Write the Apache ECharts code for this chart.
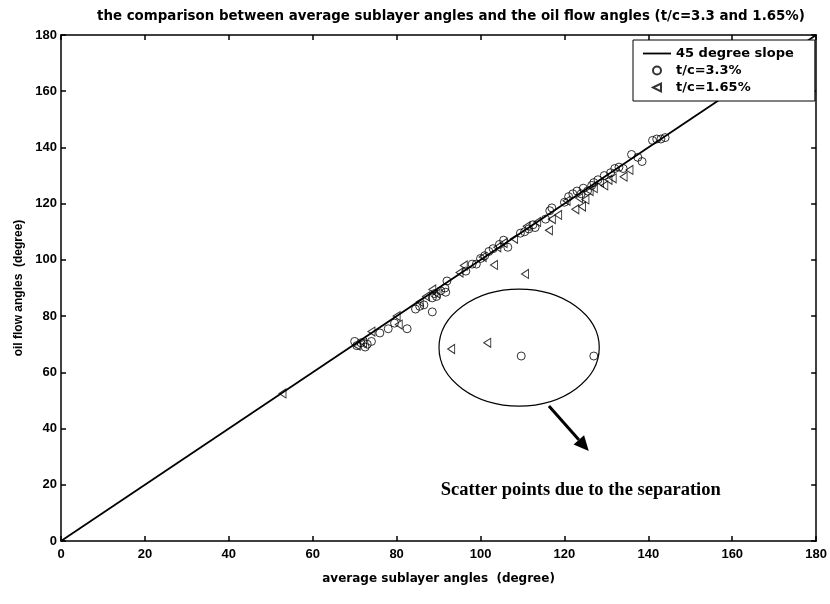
<!DOCTYPE html>
<html>
<head>
<meta charset="utf-8">
<script src="https://cdn.jsdelivr.net/npm/echarts@6/dist/echarts.min.js"></script>
<style>
  html, body { margin: 0; padding: 0; background: #fff; }
  #chart { width: 830px; height: 604px; }
</style>
</head>
<body>
<div id="chart"></div>
<script>
// Axis range and tick spacing (degrees)
const axisMin = 0;
const axisMax = 180;
const axisStep = 20;

// Reference 45-degree line (oil flow angle == sublayer angle)
const slopeLine = [[0, 0], [180, 180]];

// t/c = 3.3 % : [average sublayer angle, oil flow angle]
const tc33 = [
  [70.0, 71.0], [70.5, 69.5], [71.5, 70.5], [72.5, 69.0], [73.0, 70.0], [74.0, 71.0],
  [76.0, 74.0], [78.0, 75.5], [79.5, 77.5], [82.5, 75.5],
  [84.5, 82.5], [85.5, 83.5], [86.5, 84.0], [88.5, 81.5],
  [88.5, 86.5], [89.0, 88.0], [89.5, 87.0], [90.5, 89.0], [91.5, 90.0], [92.0, 92.5], [91.7, 88.5],
  [96.5, 96.0], [98.0, 98.5], [99.0, 98.5], [100.0, 100.5], [101.0, 101.5], [102.0, 103.0],
  [103.0, 104.0], [104.5, 105.5], [105.5, 107.0], [106.5, 104.5],
  [109.5, 109.5], [110.5, 110.0], [111.5, 111.0], [112.5, 112.5], [113.0, 111.5],
  [115.5, 114.5], [116.5, 117.5], [117.0, 118.5],
  [120.0, 120.5], [121.0, 122.5], [122.0, 123.5], [123.0, 124.5], [124.0, 123.5], [124.5, 125.5],
  [125.5, 124.5], [126.5, 126.5], [127.0, 127.5], [128.0, 128.5],
  [129.5, 130.0], [131.0, 131.0], [132.0, 132.5], [133.0, 133.0], [134.0, 132.5],
  [136.0, 137.5], [137.5, 136.5], [138.5, 135.0],
  [141.0, 142.5], [142.0, 143.0], [143.0, 143.0], [144.0, 143.5],
  [109.7, 65.8], [127.0, 65.8]
];

// t/c = 1.65 % : [average sublayer angle, oil flow angle]
const tc165 = [
  [52.8, 52.5],
  [70.5, 69.5], [72.0, 70.5], [74.0, 74.5], [80.0, 80.0], [80.5, 77.0],
  [85.5, 85.0], [87.0, 87.0], [88.5, 89.5], [89.5, 88.0],
  [95.0, 95.5], [96.0, 98.0],
  [100.5, 101.0], [103.2, 98.2], [104.0, 104.5], [105.5, 106.0],
  [108.0, 107.5], [111.0, 112.0], [113.5, 113.5],
  [116.3, 110.5], [117.0, 114.5], [118.5, 116.0],
  [120.5, 121.0], [122.6, 118.0], [124.2, 119.0], [123.5, 122.0], [125.0, 121.5], [126.0, 124.5],
  [127.0, 125.5], [128.5, 127.5], [129.5, 126.5], [130.5, 128.5], [131.5, 129.0],
  [134.1, 129.6], [135.5, 132.0],
  [93.0, 68.3], [101.6, 70.5], [110.6, 95.0]
];

// Annotation around the separated points (data units)
const noteCenter = [109.2, 68.8];
const noteRadii = [19.1, 20.8];
const arrowFrom = [116.3, 48.0];
const arrowTo = [125.8, 32.0];
const notePos = [90.5, 18.2];
const noteText = 'Scatter points due to the separation';

const leftTriangle = 'path://M0,5 L10,0 L10,10 Z';
const lineIcon = 'path://M0,0 L28,0 L28,1.8 L0,1.8 Z';
const ink = '#000';
const sansBold = { fontFamily: 'DejaVu Sans', fontWeight: 'bold', color: ink };

const chart = echarts.init(document.getElementById('chart'), null, { renderer: 'canvas' });

function frameAxis(position, showLabels, extra) {
  return Object.assign({
    type: 'value',
    position: position,
    min: axisMin,
    max: axisMax,
    interval: axisStep,
    axisLine: { show: true, onZero: false, lineStyle: { color: ink, width: 1.5 } },
    axisTick: { show: true, inside: true, length: 5, lineStyle: { color: ink, width: 1.5 } },
    axisLabel: {
      show: showLabels, color: ink, fontFamily: 'Liberation Sans', fontWeight: 'bold', fontSize: 13
    },
    splitLine: { show: false }
  }, extra || {});
}

chart.setOption({
  animation: false,
  backgroundColor: '#fff',
  title: {
    text: 'the comparison between average sublayer angles and the oil flow angles (t/c=3.3 and 1.65%)',
    left: 92,
    top: 5,
    textStyle: Object.assign({ fontSize: 13.4 }, sansBold)
  },
  grid: { left: 61, right: 12, top: 35, bottom: 63 },
  legend: {
    left: 633,
    top: 40,
    orient: 'vertical',
    backgroundColor: '#fff',
    borderColor: ink,
    borderWidth: 1,
    borderRadius: 0,
    padding: [7, 21, 7, 10],
    itemWidth: 28,
    itemHeight: 8,
    itemGap: 4,
    textStyle: Object.assign({ fontSize: 13 }, sansBold),
    data: [
      { name: '45 degree slope', icon: lineIcon, itemStyle: { color: ink, borderWidth: 0 } },
      { name: 't/c=3.3%', icon: 'circle' },
      { name: 't/c=1.65%', icon: leftTriangle }
    ]
  },
  xAxis: [
    frameAxis('bottom', true, {
      name: 'average sublayer angles  (degree)',
      nameLocation: 'middle',
      nameGap: 32,
      nameTextStyle: Object.assign({ fontSize: 12 }, sansBold),
      axisLabel: { show: true, color: ink, fontFamily: 'Liberation Sans', fontWeight: 'bold', fontSize: 13, margin: 7 }
    }),
    frameAxis('top', false)
  ],
  yAxis: [
    frameAxis('left', true, {
      name: 'oil flow angles  (degree)',
      nameLocation: 'middle',
      nameGap: 26,
      nameTextStyle: { fontFamily: 'Liberation Sans', fontWeight: 'bold', fontSize: 12, color: ink },
      axisLabel: { show: true, color: ink, fontFamily: 'Liberation Sans', fontWeight: 'bold', fontSize: 13, margin: 4 }
    }),
    frameAxis('right', false)
  ],
  series: [
    {
      name: '45 degree slope',
      type: 'line',
      data: slopeLine,
      symbol: 'none',
      showSymbol: false,
      color: ink,
      lineStyle: { color: ink, width: 1.8 },
      z: 1
    },
    {
      name: 't/c=3.3%',
      type: 'scatter',
      data: tc33,
      symbol: 'circle',
      symbolSize: 8,
      color: ink,
      itemStyle: { color: 'rgba(255,255,255,0)', borderColor: ink, borderWidth: 1 },
      z: 3
    },
    {
      name: 't/c=1.65%',
      type: 'scatter',
      data: tc165,
      symbol: leftTriangle,
      symbolSize: [7, 9],
      color: ink,
      itemStyle: { color: 'rgba(255,255,255,0)', borderColor: ink, borderWidth: 1 },
      z: 3
    }
  ]
});

// Annotation: ellipse around the separated points, arrow and caption
const toPx = p => chart.convertToPixel({ gridIndex: 0 }, p);
const c = toPx(noteCenter);
const edge = toPx([noteCenter[0] + noteRadii[0], noteCenter[1] + noteRadii[1]]);
const a0 = toPx(arrowFrom);
const a1 = toPx(arrowTo);
const dx = a1[0] - a0[0], dy = a1[1] - a0[1];
const len = Math.sqrt(dx * dx + dy * dy);
const ux = dx / len, uy = dy / len;
const headLen = 15, headHalf = 7;
const base = [a1[0] - ux * headLen, a1[1] - uy * headLen];
const np = toPx(notePos);

chart.setOption({
  graphic: [
    {
      type: 'ellipse',
      shape: { cx: c[0], cy: c[1], rx: edge[0] - c[0], ry: c[1] - edge[1] },
      style: { fill: 'none', stroke: ink, lineWidth: 1.2 },
      z: 5
    },
    {
      type: 'line',
      shape: { x1: a0[0], y1: a0[1], x2: base[0], y2: base[1] },
      style: { stroke: ink, lineWidth: 3 },
      z: 5
    },
    {
      type: 'polygon',
      shape: {
        points: [
          [a1[0], a1[1]],
          [base[0] - uy * headHalf, base[1] + ux * headHalf],
          [base[0] + uy * headHalf, base[1] - ux * headHalf]
        ]
      },
      style: { fill: ink },
      z: 5
    },
    {
      type: 'text',
      x: np[0],
      y: np[1],
      style: {
        text: noteText,
        fill: ink,
        font: 'bold 18.5px "Liberation Serif"',
        textAlign: 'left',
        textVerticalAlign: 'middle'
      },
      z: 5
    }
  ]
});
</script>
</body>
</html>
